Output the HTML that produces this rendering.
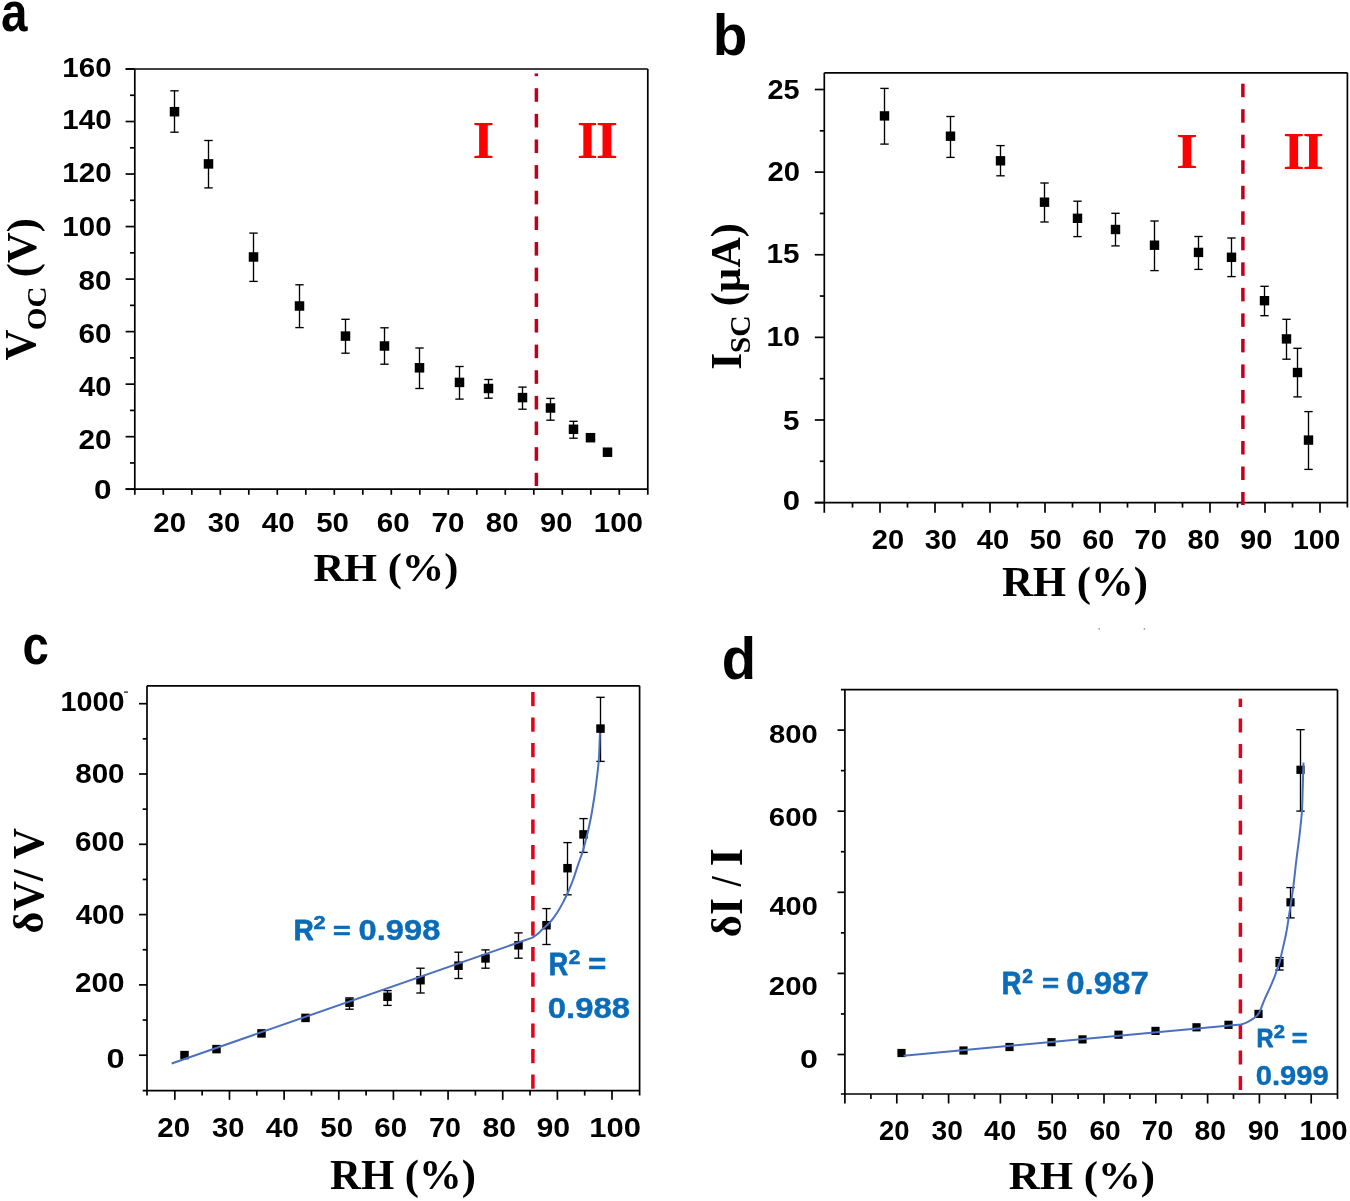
<!DOCTYPE html>
<html><head><meta charset="utf-8"><style>
html,body{margin:0;padding:0;background:#fff;overflow:hidden;}
svg{display:block;will-change:transform;}
</style></head><body>
<svg width="1350" height="1201" viewBox="0 0 1350 1201">
<rect width="1350" height="1201" fill="#fff"/>
<line x1="134.80" y1="69.00" x2="134.80" y2="494.80" stroke="#000" stroke-width="1.7"/>
<line x1="125.60" y1="69.00" x2="647.80" y2="69.00" stroke="#000" stroke-width="1.7"/>
<line x1="125.60" y1="489.20" x2="647.80" y2="489.20" stroke="#000" stroke-width="1.7"/>
<line x1="647.80" y1="69.00" x2="647.80" y2="494.80" stroke="#000" stroke-width="1.7"/>
<line x1="125.60" y1="489.20" x2="134.80" y2="489.20" stroke="#000" stroke-width="1.7"/>
<line x1="125.60" y1="436.68" x2="134.80" y2="436.68" stroke="#000" stroke-width="1.7"/>
<line x1="125.60" y1="384.15" x2="134.80" y2="384.15" stroke="#000" stroke-width="1.7"/>
<line x1="125.60" y1="331.62" x2="134.80" y2="331.62" stroke="#000" stroke-width="1.7"/>
<line x1="125.60" y1="279.10" x2="134.80" y2="279.10" stroke="#000" stroke-width="1.7"/>
<line x1="125.60" y1="226.57" x2="134.80" y2="226.57" stroke="#000" stroke-width="1.7"/>
<line x1="125.60" y1="174.05" x2="134.80" y2="174.05" stroke="#000" stroke-width="1.7"/>
<line x1="125.60" y1="121.52" x2="134.80" y2="121.52" stroke="#000" stroke-width="1.7"/>
<line x1="125.60" y1="69.00" x2="134.80" y2="69.00" stroke="#000" stroke-width="1.7"/>
<line x1="130.00" y1="462.94" x2="134.80" y2="462.94" stroke="#000" stroke-width="1.7"/>
<line x1="130.00" y1="410.41" x2="134.80" y2="410.41" stroke="#000" stroke-width="1.7"/>
<line x1="130.00" y1="357.89" x2="134.80" y2="357.89" stroke="#000" stroke-width="1.7"/>
<line x1="130.00" y1="305.36" x2="134.80" y2="305.36" stroke="#000" stroke-width="1.7"/>
<line x1="130.00" y1="252.84" x2="134.80" y2="252.84" stroke="#000" stroke-width="1.7"/>
<line x1="130.00" y1="200.31" x2="134.80" y2="200.31" stroke="#000" stroke-width="1.7"/>
<line x1="130.00" y1="147.79" x2="134.80" y2="147.79" stroke="#000" stroke-width="1.7"/>
<line x1="130.00" y1="95.26" x2="134.80" y2="95.26" stroke="#000" stroke-width="1.7"/>
<line x1="163.30" y1="489.20" x2="163.30" y2="494.80" stroke="#000" stroke-width="1.7"/>
<line x1="191.80" y1="489.20" x2="191.80" y2="494.80" stroke="#000" stroke-width="1.7"/>
<line x1="220.30" y1="489.20" x2="220.30" y2="494.80" stroke="#000" stroke-width="1.7"/>
<line x1="248.80" y1="489.20" x2="248.80" y2="494.80" stroke="#000" stroke-width="1.7"/>
<line x1="277.30" y1="489.20" x2="277.30" y2="494.80" stroke="#000" stroke-width="1.7"/>
<line x1="305.80" y1="489.20" x2="305.80" y2="494.80" stroke="#000" stroke-width="1.7"/>
<line x1="334.30" y1="489.20" x2="334.30" y2="494.80" stroke="#000" stroke-width="1.7"/>
<line x1="362.80" y1="489.20" x2="362.80" y2="494.80" stroke="#000" stroke-width="1.7"/>
<line x1="391.30" y1="489.20" x2="391.30" y2="494.80" stroke="#000" stroke-width="1.7"/>
<line x1="419.80" y1="489.20" x2="419.80" y2="494.80" stroke="#000" stroke-width="1.7"/>
<line x1="448.30" y1="489.20" x2="448.30" y2="494.80" stroke="#000" stroke-width="1.7"/>
<line x1="476.80" y1="489.20" x2="476.80" y2="494.80" stroke="#000" stroke-width="1.7"/>
<line x1="505.30" y1="489.20" x2="505.30" y2="494.80" stroke="#000" stroke-width="1.7"/>
<line x1="533.80" y1="489.20" x2="533.80" y2="494.80" stroke="#000" stroke-width="1.7"/>
<line x1="562.30" y1="489.20" x2="562.30" y2="494.80" stroke="#000" stroke-width="1.7"/>
<line x1="590.80" y1="489.20" x2="590.80" y2="494.80" stroke="#000" stroke-width="1.7"/>
<line x1="619.30" y1="489.20" x2="619.30" y2="494.80" stroke="#000" stroke-width="1.7"/>
<text x="94.04" y="499.43" font-family='"Liberation Sans", sans-serif' font-weight="bold" font-size="27.04" fill="#000" textLength="17.56" lengthAdjust="spacingAndGlyphs">0</text>
<text x="78.46" y="448.63" font-family='"Liberation Sans", sans-serif' font-weight="bold" font-size="27.04" fill="#000" textLength="33.10" lengthAdjust="spacingAndGlyphs">20</text>
<text x="79.06" y="395.83" font-family='"Liberation Sans", sans-serif' font-weight="bold" font-size="27.04" fill="#000" textLength="32.47" lengthAdjust="spacingAndGlyphs">40</text>
<text x="78.46" y="342.83" font-family='"Liberation Sans", sans-serif' font-weight="bold" font-size="27.04" fill="#000" textLength="33.10" lengthAdjust="spacingAndGlyphs">60</text>
<text x="78.61" y="289.83" font-family='"Liberation Sans", sans-serif' font-weight="bold" font-size="27.04" fill="#000" textLength="32.94" lengthAdjust="spacingAndGlyphs">80</text>
<text x="62.38" y="235.63" font-family='"Liberation Sans", sans-serif' font-weight="bold" font-size="27.04" fill="#000" textLength="49.20" lengthAdjust="spacingAndGlyphs">100</text>
<text x="62.38" y="181.93" font-family='"Liberation Sans", sans-serif' font-weight="bold" font-size="27.04" fill="#000" textLength="49.20" lengthAdjust="spacingAndGlyphs">120</text>
<text x="62.38" y="129.33" font-family='"Liberation Sans", sans-serif' font-weight="bold" font-size="27.04" fill="#000" textLength="49.20" lengthAdjust="spacingAndGlyphs">140</text>
<text x="62.38" y="76.63" font-family='"Liberation Sans", sans-serif' font-weight="bold" font-size="27.04" fill="#000" textLength="49.20" lengthAdjust="spacingAndGlyphs">160</text>
<text x="153.37" y="532.33" font-family='"Liberation Sans", sans-serif' font-weight="bold" font-size="27.04" fill="#000" textLength="32.67" lengthAdjust="spacingAndGlyphs">20</text>
<text x="207.77" y="532.33" font-family='"Liberation Sans", sans-serif' font-weight="bold" font-size="27.04" fill="#000" textLength="32.36" lengthAdjust="spacingAndGlyphs">30</text>
<text x="261.86" y="532.33" font-family='"Liberation Sans", sans-serif' font-weight="bold" font-size="27.04" fill="#000" textLength="32.79" lengthAdjust="spacingAndGlyphs">40</text>
<text x="316.21" y="532.33" font-family='"Liberation Sans", sans-serif' font-weight="bold" font-size="27.04" fill="#000" textLength="32.84" lengthAdjust="spacingAndGlyphs">50</text>
<text x="376.77" y="532.33" font-family='"Liberation Sans", sans-serif' font-weight="bold" font-size="27.04" fill="#000" textLength="32.89" lengthAdjust="spacingAndGlyphs">60</text>
<text x="431.57" y="532.33" font-family='"Liberation Sans", sans-serif' font-weight="bold" font-size="27.04" fill="#000" textLength="32.99" lengthAdjust="spacingAndGlyphs">70</text>
<text x="485.82" y="532.33" font-family='"Liberation Sans", sans-serif' font-weight="bold" font-size="27.04" fill="#000" textLength="32.73" lengthAdjust="spacingAndGlyphs">80</text>
<text x="540.09" y="532.33" font-family='"Liberation Sans", sans-serif' font-weight="bold" font-size="27.04" fill="#000" textLength="32.24" lengthAdjust="spacingAndGlyphs">90</text>
<text x="593.68" y="532.33" font-family='"Liberation Sans", sans-serif' font-weight="bold" font-size="27.04" fill="#000" textLength="49.41" lengthAdjust="spacingAndGlyphs">100</text>
<text x="313.46" y="580.69" font-family='"Liberation Serif", serif' font-weight="bold" font-size="40.99" fill="#000" textLength="144.98" lengthAdjust="spacingAndGlyphs">RH (%)</text>
<text x="1.07" y="31.44" font-family='"Liberation Sans", sans-serif' font-weight="bold" font-size="56.36" fill="#000" textLength="26.51" lengthAdjust="spacingAndGlyphs">a</text>
<text x="35.34" y="360.43" transform="rotate(-90 35.34 360.43)" font-family='"Liberation Serif", serif' font-weight="bold" font-size="43.73" fill="#000" textLength="30.95" lengthAdjust="spacingAndGlyphs">V</text>
<text x="45.92" y="330.15" transform="rotate(-90 45.92 330.15)" font-family='"Liberation Serif", serif' font-weight="bold" font-size="28.21" fill="#000" textLength="43.64" lengthAdjust="spacingAndGlyphs">OC</text>
<text x="35.52" y="277.21" transform="rotate(-90 35.52 277.21)" font-family='"Liberation Serif", serif' font-weight="bold" font-size="41.76" fill="#000" textLength="59.06" lengthAdjust="spacingAndGlyphs">(V)</text>
<rect x="534.65" y="73.40" width="3.50" height="2.76" fill="#c0001a"/>
<rect x="534.65" y="88.20" width="3.50" height="13.60" fill="#c0001a"/>
<rect x="534.65" y="113.84" width="3.50" height="13.60" fill="#c0001a"/>
<rect x="534.65" y="139.48" width="3.50" height="13.60" fill="#c0001a"/>
<rect x="534.65" y="165.12" width="3.50" height="13.60" fill="#c0001a"/>
<rect x="534.65" y="190.76" width="3.50" height="13.60" fill="#c0001a"/>
<rect x="534.65" y="216.40" width="3.50" height="13.60" fill="#c0001a"/>
<rect x="534.65" y="242.04" width="3.50" height="13.60" fill="#c0001a"/>
<rect x="534.65" y="267.68" width="3.50" height="13.60" fill="#c0001a"/>
<rect x="534.65" y="293.32" width="3.50" height="13.60" fill="#c0001a"/>
<rect x="534.65" y="318.96" width="3.50" height="13.60" fill="#c0001a"/>
<rect x="534.65" y="344.60" width="3.50" height="13.60" fill="#c0001a"/>
<rect x="534.65" y="370.24" width="3.50" height="13.60" fill="#c0001a"/>
<rect x="534.65" y="395.88" width="3.50" height="13.60" fill="#c0001a"/>
<rect x="534.65" y="421.52" width="3.50" height="13.60" fill="#c0001a"/>
<rect x="534.65" y="447.16" width="3.50" height="13.60" fill="#c0001a"/>
<rect x="534.65" y="472.80" width="3.50" height="13.20" fill="#c0001a"/>
<text x="472.53" y="158.40" font-family='"Liberation Serif", serif' font-weight="bold" font-size="51.91" fill="#ff0000" textLength="21.89" lengthAdjust="spacingAndGlyphs">I</text>
<text x="576.92" y="158.40" font-family='"Liberation Serif", serif' font-weight="bold" font-size="51.91" fill="#ff0000" textLength="20.92" lengthAdjust="spacingAndGlyphs">I</text>
<text x="595.69" y="158.40" font-family='"Liberation Serif", serif' font-weight="bold" font-size="51.91" fill="#ff0000" textLength="22.38" lengthAdjust="spacingAndGlyphs">I</text>
<line x1="174.50" y1="90.80" x2="174.50" y2="111.70" stroke="#000" stroke-width="1.35"/>
<line x1="170.30" y1="90.80" x2="178.70" y2="90.80" stroke="#000" stroke-width="1.35"/>
<line x1="174.50" y1="111.70" x2="174.50" y2="132.20" stroke="#000" stroke-width="1.35"/>
<line x1="170.30" y1="132.20" x2="178.70" y2="132.20" stroke="#000" stroke-width="1.35"/>
<rect x="169.75" y="106.95" width="9.50" height="9.50" fill="#000"/>
<line x1="208.50" y1="140.50" x2="208.50" y2="163.90" stroke="#000" stroke-width="1.35"/>
<line x1="204.30" y1="140.50" x2="212.70" y2="140.50" stroke="#000" stroke-width="1.35"/>
<line x1="208.50" y1="163.90" x2="208.50" y2="187.90" stroke="#000" stroke-width="1.35"/>
<line x1="204.30" y1="187.90" x2="212.70" y2="187.90" stroke="#000" stroke-width="1.35"/>
<rect x="203.75" y="159.15" width="9.50" height="9.50" fill="#000"/>
<line x1="253.50" y1="233.10" x2="253.50" y2="257.00" stroke="#000" stroke-width="1.35"/>
<line x1="249.30" y1="233.10" x2="257.70" y2="233.10" stroke="#000" stroke-width="1.35"/>
<line x1="253.50" y1="257.00" x2="253.50" y2="281.40" stroke="#000" stroke-width="1.35"/>
<line x1="249.30" y1="281.40" x2="257.70" y2="281.40" stroke="#000" stroke-width="1.35"/>
<rect x="248.75" y="252.25" width="9.50" height="9.50" fill="#000"/>
<line x1="299.50" y1="284.80" x2="299.50" y2="306.00" stroke="#000" stroke-width="1.35"/>
<line x1="295.30" y1="284.80" x2="303.70" y2="284.80" stroke="#000" stroke-width="1.35"/>
<line x1="299.50" y1="306.00" x2="299.50" y2="327.60" stroke="#000" stroke-width="1.35"/>
<line x1="295.30" y1="327.60" x2="303.70" y2="327.60" stroke="#000" stroke-width="1.35"/>
<rect x="294.75" y="301.25" width="9.50" height="9.50" fill="#000"/>
<line x1="345.50" y1="319.30" x2="345.50" y2="336.10" stroke="#000" stroke-width="1.35"/>
<line x1="341.30" y1="319.30" x2="349.70" y2="319.30" stroke="#000" stroke-width="1.35"/>
<line x1="345.50" y1="336.10" x2="345.50" y2="353.20" stroke="#000" stroke-width="1.35"/>
<line x1="341.30" y1="353.20" x2="349.70" y2="353.20" stroke="#000" stroke-width="1.35"/>
<rect x="340.75" y="331.35" width="9.50" height="9.50" fill="#000"/>
<line x1="384.50" y1="327.80" x2="384.50" y2="346.00" stroke="#000" stroke-width="1.35"/>
<line x1="380.30" y1="327.80" x2="388.70" y2="327.80" stroke="#000" stroke-width="1.35"/>
<line x1="384.50" y1="346.00" x2="384.50" y2="364.20" stroke="#000" stroke-width="1.35"/>
<line x1="380.30" y1="364.20" x2="388.70" y2="364.20" stroke="#000" stroke-width="1.35"/>
<rect x="379.75" y="341.25" width="9.50" height="9.50" fill="#000"/>
<line x1="419.50" y1="348.00" x2="419.50" y2="367.80" stroke="#000" stroke-width="1.35"/>
<line x1="415.30" y1="348.00" x2="423.70" y2="348.00" stroke="#000" stroke-width="1.35"/>
<line x1="419.50" y1="367.80" x2="419.50" y2="388.50" stroke="#000" stroke-width="1.35"/>
<line x1="415.30" y1="388.50" x2="423.70" y2="388.50" stroke="#000" stroke-width="1.35"/>
<rect x="414.75" y="363.05" width="9.50" height="9.50" fill="#000"/>
<line x1="459.50" y1="366.50" x2="459.50" y2="382.40" stroke="#000" stroke-width="1.35"/>
<line x1="455.30" y1="366.50" x2="463.70" y2="366.50" stroke="#000" stroke-width="1.35"/>
<line x1="459.50" y1="382.40" x2="459.50" y2="399.10" stroke="#000" stroke-width="1.35"/>
<line x1="455.30" y1="399.10" x2="463.70" y2="399.10" stroke="#000" stroke-width="1.35"/>
<rect x="454.75" y="377.65" width="9.50" height="9.50" fill="#000"/>
<line x1="488.50" y1="379.50" x2="488.50" y2="388.50" stroke="#000" stroke-width="1.35"/>
<line x1="484.30" y1="379.50" x2="492.70" y2="379.50" stroke="#000" stroke-width="1.35"/>
<line x1="488.50" y1="388.50" x2="488.50" y2="398.20" stroke="#000" stroke-width="1.35"/>
<line x1="484.30" y1="398.20" x2="492.70" y2="398.20" stroke="#000" stroke-width="1.35"/>
<rect x="483.75" y="383.75" width="9.50" height="9.50" fill="#000"/>
<line x1="522.50" y1="387.10" x2="522.50" y2="397.60" stroke="#000" stroke-width="1.35"/>
<line x1="518.30" y1="387.10" x2="526.70" y2="387.10" stroke="#000" stroke-width="1.35"/>
<line x1="522.50" y1="397.60" x2="522.50" y2="409.20" stroke="#000" stroke-width="1.35"/>
<line x1="518.30" y1="409.20" x2="526.70" y2="409.20" stroke="#000" stroke-width="1.35"/>
<rect x="517.75" y="392.85" width="9.50" height="9.50" fill="#000"/>
<line x1="550.50" y1="398.40" x2="550.50" y2="408.00" stroke="#000" stroke-width="1.35"/>
<line x1="546.30" y1="398.40" x2="554.70" y2="398.40" stroke="#000" stroke-width="1.35"/>
<line x1="550.50" y1="408.00" x2="550.50" y2="420.20" stroke="#000" stroke-width="1.35"/>
<line x1="546.30" y1="420.20" x2="554.70" y2="420.20" stroke="#000" stroke-width="1.35"/>
<rect x="545.75" y="403.25" width="9.50" height="9.50" fill="#000"/>
<line x1="573.50" y1="421.30" x2="573.50" y2="429.30" stroke="#000" stroke-width="1.35"/>
<line x1="569.30" y1="421.30" x2="577.70" y2="421.30" stroke="#000" stroke-width="1.35"/>
<line x1="573.50" y1="429.30" x2="573.50" y2="438.20" stroke="#000" stroke-width="1.35"/>
<line x1="569.30" y1="438.20" x2="577.70" y2="438.20" stroke="#000" stroke-width="1.35"/>
<rect x="568.75" y="424.55" width="9.50" height="9.50" fill="#000"/>
<rect x="585.75" y="432.95" width="9.50" height="9.50" fill="#000"/>
<rect x="602.75" y="447.45" width="9.50" height="9.50" fill="#000"/>
<line x1="824.30" y1="72.80" x2="824.30" y2="512.80" stroke="#000" stroke-width="1.7"/>
<line x1="824.30" y1="72.80" x2="1347.40" y2="72.80" stroke="#000" stroke-width="1.7"/>
<line x1="814.80" y1="502.60" x2="1347.40" y2="502.60" stroke="#000" stroke-width="1.7"/>
<line x1="1347.40" y1="72.80" x2="1347.40" y2="507.60" stroke="#000" stroke-width="1.7"/>
<line x1="814.80" y1="502.60" x2="824.30" y2="502.60" stroke="#000" stroke-width="1.7"/>
<line x1="814.80" y1="419.98" x2="824.30" y2="419.98" stroke="#000" stroke-width="1.7"/>
<line x1="814.80" y1="337.36" x2="824.30" y2="337.36" stroke="#000" stroke-width="1.7"/>
<line x1="814.80" y1="254.74" x2="824.30" y2="254.74" stroke="#000" stroke-width="1.7"/>
<line x1="814.80" y1="172.12" x2="824.30" y2="172.12" stroke="#000" stroke-width="1.7"/>
<line x1="814.80" y1="89.50" x2="824.30" y2="89.50" stroke="#000" stroke-width="1.7"/>
<line x1="819.80" y1="461.29" x2="824.30" y2="461.29" stroke="#000" stroke-width="1.7"/>
<line x1="819.80" y1="378.67" x2="824.30" y2="378.67" stroke="#000" stroke-width="1.7"/>
<line x1="819.80" y1="296.05" x2="824.30" y2="296.05" stroke="#000" stroke-width="1.7"/>
<line x1="819.80" y1="213.43" x2="824.30" y2="213.43" stroke="#000" stroke-width="1.7"/>
<line x1="819.80" y1="130.81" x2="824.30" y2="130.81" stroke="#000" stroke-width="1.7"/>
<line x1="880.00" y1="502.60" x2="880.00" y2="512.80" stroke="#000" stroke-width="1.7"/>
<line x1="935.00" y1="502.60" x2="935.00" y2="512.80" stroke="#000" stroke-width="1.7"/>
<line x1="990.00" y1="502.60" x2="990.00" y2="512.80" stroke="#000" stroke-width="1.7"/>
<line x1="1045.00" y1="502.60" x2="1045.00" y2="512.80" stroke="#000" stroke-width="1.7"/>
<line x1="1100.00" y1="502.60" x2="1100.00" y2="512.80" stroke="#000" stroke-width="1.7"/>
<line x1="1155.00" y1="502.60" x2="1155.00" y2="512.80" stroke="#000" stroke-width="1.7"/>
<line x1="1210.00" y1="502.60" x2="1210.00" y2="512.80" stroke="#000" stroke-width="1.7"/>
<line x1="1265.00" y1="502.60" x2="1265.00" y2="512.80" stroke="#000" stroke-width="1.7"/>
<line x1="1320.00" y1="502.60" x2="1320.00" y2="512.80" stroke="#000" stroke-width="1.7"/>
<line x1="852.50" y1="502.60" x2="852.50" y2="507.60" stroke="#000" stroke-width="1.7"/>
<line x1="907.50" y1="502.60" x2="907.50" y2="507.60" stroke="#000" stroke-width="1.7"/>
<line x1="962.50" y1="502.60" x2="962.50" y2="507.60" stroke="#000" stroke-width="1.7"/>
<line x1="1017.50" y1="502.60" x2="1017.50" y2="507.60" stroke="#000" stroke-width="1.7"/>
<line x1="1072.50" y1="502.60" x2="1072.50" y2="507.60" stroke="#000" stroke-width="1.7"/>
<line x1="1127.50" y1="502.60" x2="1127.50" y2="507.60" stroke="#000" stroke-width="1.7"/>
<line x1="1182.50" y1="502.60" x2="1182.50" y2="507.60" stroke="#000" stroke-width="1.7"/>
<line x1="1237.50" y1="502.60" x2="1237.50" y2="507.60" stroke="#000" stroke-width="1.7"/>
<line x1="1292.50" y1="502.60" x2="1292.50" y2="507.60" stroke="#000" stroke-width="1.7"/>
<text x="782.75" y="510.33" font-family='"Liberation Sans", sans-serif' font-weight="bold" font-size="27.04" fill="#000" textLength="17.33" lengthAdjust="spacingAndGlyphs">0</text>
<text x="783.11" y="430.08" font-family='"Liberation Sans", sans-serif' font-weight="bold" font-size="27.43" fill="#000" textLength="16.46" lengthAdjust="spacingAndGlyphs">5</text>
<text x="766.54" y="346.23" font-family='"Liberation Sans", sans-serif' font-weight="bold" font-size="27.04" fill="#000" textLength="33.54" lengthAdjust="spacingAndGlyphs">10</text>
<text x="766.57" y="263.43" font-family='"Liberation Sans", sans-serif' font-weight="bold" font-size="27.43" fill="#000" textLength="33.04" lengthAdjust="spacingAndGlyphs">15</text>
<text x="767.48" y="181.23" font-family='"Liberation Sans", sans-serif' font-weight="bold" font-size="27.04" fill="#000" textLength="32.56" lengthAdjust="spacingAndGlyphs">20</text>
<text x="767.49" y="98.68" font-family='"Liberation Sans", sans-serif' font-weight="bold" font-size="27.04" fill="#000" textLength="32.10" lengthAdjust="spacingAndGlyphs">25</text>
<text x="871.78" y="549.13" font-family='"Liberation Sans", sans-serif' font-weight="bold" font-size="27.18" fill="#000" textLength="32.35" lengthAdjust="spacingAndGlyphs">20</text>
<text x="924.67" y="549.13" font-family='"Liberation Sans", sans-serif' font-weight="bold" font-size="27.18" fill="#000" textLength="32.36" lengthAdjust="spacingAndGlyphs">30</text>
<text x="976.86" y="549.13" font-family='"Liberation Sans", sans-serif' font-weight="bold" font-size="27.18" fill="#000" textLength="32.47" lengthAdjust="spacingAndGlyphs">40</text>
<text x="1029.74" y="549.13" font-family='"Liberation Sans", sans-serif' font-weight="bold" font-size="27.18" fill="#000" textLength="31.87" lengthAdjust="spacingAndGlyphs">50</text>
<text x="1082.19" y="549.13" font-family='"Liberation Sans", sans-serif' font-weight="bold" font-size="27.18" fill="#000" textLength="32.03" lengthAdjust="spacingAndGlyphs">60</text>
<text x="1134.60" y="549.13" font-family='"Liberation Sans", sans-serif' font-weight="bold" font-size="27.18" fill="#000" textLength="32.23" lengthAdjust="spacingAndGlyphs">70</text>
<text x="1187.63" y="549.13" font-family='"Liberation Sans", sans-serif' font-weight="bold" font-size="27.18" fill="#000" textLength="32.19" lengthAdjust="spacingAndGlyphs">80</text>
<text x="1240.08" y="549.13" font-family='"Liberation Sans", sans-serif' font-weight="bold" font-size="27.18" fill="#000" textLength="32.35" lengthAdjust="spacingAndGlyphs">90</text>
<text x="1292.95" y="549.13" font-family='"Liberation Sans", sans-serif' font-weight="bold" font-size="27.18" fill="#000" textLength="47.38" lengthAdjust="spacingAndGlyphs">100</text>
<text x="1001.96" y="596.47" font-family='"Liberation Serif", serif' font-weight="bold" font-size="41.54" fill="#000" textLength="146.00" lengthAdjust="spacingAndGlyphs">RH (%)</text>
<text x="712.82" y="54.52" font-family='"Liberation Sans", sans-serif' font-weight="bold" font-size="58.10" fill="#000" textLength="34.60" lengthAdjust="spacingAndGlyphs">b</text>
<text x="740.70" y="369.83" transform="rotate(-90 740.70 369.83)" font-family='"Liberation Serif", serif' font-weight="bold" font-size="44.89" fill="#000" textLength="17.02" lengthAdjust="spacingAndGlyphs">I</text>
<text x="750.41" y="353.33" transform="rotate(-90 750.41 353.33)" font-family='"Liberation Serif", serif' font-weight="bold" font-size="28.96" fill="#000" textLength="37.96" lengthAdjust="spacingAndGlyphs">SC</text>
<text x="740.09" y="306.20" transform="rotate(-90 740.09 306.20)" font-family='"Liberation Serif", serif' font-weight="bold" font-size="41.43" fill="#000" textLength="83.08" lengthAdjust="spacingAndGlyphs">(µA)</text>
<rect x="1241.15" y="83.70" width="3.50" height="13.50" fill="#c0001a"/>
<rect x="1241.15" y="109.22" width="3.50" height="13.50" fill="#c0001a"/>
<rect x="1241.15" y="134.74" width="3.50" height="13.50" fill="#c0001a"/>
<rect x="1241.15" y="160.26" width="3.50" height="13.50" fill="#c0001a"/>
<rect x="1241.15" y="185.78" width="3.50" height="13.50" fill="#c0001a"/>
<rect x="1241.15" y="211.30" width="3.50" height="13.50" fill="#c0001a"/>
<rect x="1241.15" y="236.82" width="3.50" height="13.50" fill="#c0001a"/>
<rect x="1241.15" y="262.34" width="3.50" height="13.50" fill="#c0001a"/>
<rect x="1241.15" y="287.86" width="3.50" height="13.50" fill="#c0001a"/>
<rect x="1241.15" y="313.38" width="3.50" height="13.50" fill="#c0001a"/>
<rect x="1241.15" y="338.90" width="3.50" height="13.50" fill="#c0001a"/>
<rect x="1241.15" y="364.42" width="3.50" height="13.50" fill="#c0001a"/>
<rect x="1241.15" y="389.94" width="3.50" height="13.50" fill="#c0001a"/>
<rect x="1241.15" y="415.46" width="3.50" height="13.50" fill="#c0001a"/>
<rect x="1241.15" y="440.98" width="3.50" height="13.50" fill="#c0001a"/>
<rect x="1241.15" y="466.50" width="3.50" height="13.50" fill="#c0001a"/>
<rect x="1241.15" y="492.02" width="3.50" height="12.98" fill="#c0001a"/>
<text x="1176.12" y="167.90" font-family='"Liberation Serif", serif' font-weight="bold" font-size="51.60" fill="#ff0000" textLength="22.01" lengthAdjust="spacingAndGlyphs">I</text>
<text x="1282.95" y="169.30" font-family='"Liberation Serif", serif' font-weight="bold" font-size="52.37" fill="#ff0000" textLength="21.65" lengthAdjust="spacingAndGlyphs">I</text>
<text x="1302.45" y="169.30" font-family='"Liberation Serif", serif' font-weight="bold" font-size="52.37" fill="#ff0000" textLength="21.65" lengthAdjust="spacingAndGlyphs">I</text>
<line x1="884.50" y1="88.40" x2="884.50" y2="115.90" stroke="#000" stroke-width="1.35"/>
<line x1="880.30" y1="88.40" x2="888.70" y2="88.40" stroke="#000" stroke-width="1.35"/>
<line x1="884.50" y1="115.90" x2="884.50" y2="144.10" stroke="#000" stroke-width="1.35"/>
<line x1="880.30" y1="144.10" x2="888.70" y2="144.10" stroke="#000" stroke-width="1.35"/>
<rect x="879.80" y="111.20" width="9.40" height="9.40" fill="#000"/>
<line x1="950.50" y1="116.50" x2="950.50" y2="136.20" stroke="#000" stroke-width="1.35"/>
<line x1="946.30" y1="116.50" x2="954.70" y2="116.50" stroke="#000" stroke-width="1.35"/>
<line x1="950.50" y1="136.20" x2="950.50" y2="157.40" stroke="#000" stroke-width="1.35"/>
<line x1="946.30" y1="157.40" x2="954.70" y2="157.40" stroke="#000" stroke-width="1.35"/>
<rect x="945.80" y="131.50" width="9.40" height="9.40" fill="#000"/>
<line x1="1000.50" y1="145.60" x2="1000.50" y2="160.80" stroke="#000" stroke-width="1.35"/>
<line x1="996.30" y1="145.60" x2="1004.70" y2="145.60" stroke="#000" stroke-width="1.35"/>
<line x1="1000.50" y1="160.80" x2="1000.50" y2="175.80" stroke="#000" stroke-width="1.35"/>
<line x1="996.30" y1="175.80" x2="1004.70" y2="175.80" stroke="#000" stroke-width="1.35"/>
<rect x="995.80" y="156.10" width="9.40" height="9.40" fill="#000"/>
<line x1="1044.50" y1="183.00" x2="1044.50" y2="202.20" stroke="#000" stroke-width="1.35"/>
<line x1="1040.30" y1="183.00" x2="1048.70" y2="183.00" stroke="#000" stroke-width="1.35"/>
<line x1="1044.50" y1="202.20" x2="1044.50" y2="222.00" stroke="#000" stroke-width="1.35"/>
<line x1="1040.30" y1="222.00" x2="1048.70" y2="222.00" stroke="#000" stroke-width="1.35"/>
<rect x="1039.80" y="197.50" width="9.40" height="9.40" fill="#000"/>
<line x1="1077.50" y1="201.20" x2="1077.50" y2="218.30" stroke="#000" stroke-width="1.35"/>
<line x1="1073.30" y1="201.20" x2="1081.70" y2="201.20" stroke="#000" stroke-width="1.35"/>
<line x1="1077.50" y1="218.30" x2="1077.50" y2="236.60" stroke="#000" stroke-width="1.35"/>
<line x1="1073.30" y1="236.60" x2="1081.70" y2="236.60" stroke="#000" stroke-width="1.35"/>
<rect x="1072.80" y="213.60" width="9.40" height="9.40" fill="#000"/>
<line x1="1115.50" y1="213.30" x2="1115.50" y2="229.50" stroke="#000" stroke-width="1.35"/>
<line x1="1111.30" y1="213.30" x2="1119.70" y2="213.30" stroke="#000" stroke-width="1.35"/>
<line x1="1115.50" y1="229.50" x2="1115.50" y2="245.90" stroke="#000" stroke-width="1.35"/>
<line x1="1111.30" y1="245.90" x2="1119.70" y2="245.90" stroke="#000" stroke-width="1.35"/>
<rect x="1110.80" y="224.80" width="9.40" height="9.40" fill="#000"/>
<line x1="1154.50" y1="221.00" x2="1154.50" y2="245.20" stroke="#000" stroke-width="1.35"/>
<line x1="1150.30" y1="221.00" x2="1158.70" y2="221.00" stroke="#000" stroke-width="1.35"/>
<line x1="1154.50" y1="245.20" x2="1154.50" y2="270.60" stroke="#000" stroke-width="1.35"/>
<line x1="1150.30" y1="270.60" x2="1158.70" y2="270.60" stroke="#000" stroke-width="1.35"/>
<rect x="1149.80" y="240.50" width="9.40" height="9.40" fill="#000"/>
<line x1="1198.50" y1="236.50" x2="1198.50" y2="252.40" stroke="#000" stroke-width="1.35"/>
<line x1="1194.30" y1="236.50" x2="1202.70" y2="236.50" stroke="#000" stroke-width="1.35"/>
<line x1="1198.50" y1="252.40" x2="1198.50" y2="269.40" stroke="#000" stroke-width="1.35"/>
<line x1="1194.30" y1="269.40" x2="1202.70" y2="269.40" stroke="#000" stroke-width="1.35"/>
<rect x="1193.80" y="247.70" width="9.40" height="9.40" fill="#000"/>
<line x1="1231.50" y1="238.00" x2="1231.50" y2="257.30" stroke="#000" stroke-width="1.35"/>
<line x1="1227.30" y1="238.00" x2="1235.70" y2="238.00" stroke="#000" stroke-width="1.35"/>
<line x1="1231.50" y1="257.30" x2="1231.50" y2="276.60" stroke="#000" stroke-width="1.35"/>
<line x1="1227.30" y1="276.60" x2="1235.70" y2="276.60" stroke="#000" stroke-width="1.35"/>
<rect x="1226.80" y="252.60" width="9.40" height="9.40" fill="#000"/>
<line x1="1264.50" y1="286.30" x2="1264.50" y2="300.70" stroke="#000" stroke-width="1.35"/>
<line x1="1260.30" y1="286.30" x2="1268.70" y2="286.30" stroke="#000" stroke-width="1.35"/>
<line x1="1264.50" y1="300.70" x2="1264.50" y2="315.70" stroke="#000" stroke-width="1.35"/>
<line x1="1260.30" y1="315.70" x2="1268.70" y2="315.70" stroke="#000" stroke-width="1.35"/>
<rect x="1259.80" y="296.00" width="9.40" height="9.40" fill="#000"/>
<line x1="1286.50" y1="319.30" x2="1286.50" y2="338.90" stroke="#000" stroke-width="1.35"/>
<line x1="1282.30" y1="319.30" x2="1290.70" y2="319.30" stroke="#000" stroke-width="1.35"/>
<line x1="1286.50" y1="338.90" x2="1286.50" y2="359.20" stroke="#000" stroke-width="1.35"/>
<line x1="1282.30" y1="359.20" x2="1290.70" y2="359.20" stroke="#000" stroke-width="1.35"/>
<rect x="1281.80" y="334.20" width="9.40" height="9.40" fill="#000"/>
<line x1="1297.50" y1="348.30" x2="1297.50" y2="372.50" stroke="#000" stroke-width="1.35"/>
<line x1="1293.30" y1="348.30" x2="1301.70" y2="348.30" stroke="#000" stroke-width="1.35"/>
<line x1="1297.50" y1="372.50" x2="1297.50" y2="396.90" stroke="#000" stroke-width="1.35"/>
<line x1="1293.30" y1="396.90" x2="1301.70" y2="396.90" stroke="#000" stroke-width="1.35"/>
<rect x="1292.80" y="367.80" width="9.40" height="9.40" fill="#000"/>
<line x1="1308.50" y1="411.60" x2="1308.50" y2="440.10" stroke="#000" stroke-width="1.35"/>
<line x1="1304.30" y1="411.60" x2="1312.70" y2="411.60" stroke="#000" stroke-width="1.35"/>
<line x1="1308.50" y1="440.10" x2="1308.50" y2="469.40" stroke="#000" stroke-width="1.35"/>
<line x1="1304.30" y1="469.40" x2="1312.70" y2="469.40" stroke="#000" stroke-width="1.35"/>
<rect x="1303.80" y="435.40" width="9.40" height="9.40" fill="#000"/>
<rect x="1098.50" y="628.20" width="1.40" height="1.40" fill="#888"/>
<rect x="1143.70" y="628.20" width="1.40" height="1.40" fill="#888"/>
<line x1="147.00" y1="685.80" x2="147.00" y2="1095.60" stroke="#000" stroke-width="1.7"/>
<line x1="147.00" y1="685.80" x2="639.60" y2="685.80" stroke="#000" stroke-width="1.7"/>
<line x1="142.70" y1="1090.60" x2="639.60" y2="1090.60" stroke="#000" stroke-width="1.7"/>
<line x1="639.60" y1="685.80" x2="639.60" y2="1095.60" stroke="#000" stroke-width="1.7"/>
<line x1="139.00" y1="1055.20" x2="147.00" y2="1055.20" stroke="#000" stroke-width="1.7"/>
<line x1="139.00" y1="984.90" x2="147.00" y2="984.90" stroke="#000" stroke-width="1.7"/>
<line x1="139.00" y1="914.60" x2="147.00" y2="914.60" stroke="#000" stroke-width="1.7"/>
<line x1="139.00" y1="844.30" x2="147.00" y2="844.30" stroke="#000" stroke-width="1.7"/>
<line x1="139.00" y1="774.00" x2="147.00" y2="774.00" stroke="#000" stroke-width="1.7"/>
<line x1="139.00" y1="703.70" x2="147.00" y2="703.70" stroke="#000" stroke-width="1.7"/>
<line x1="142.70" y1="1020.05" x2="147.00" y2="1020.05" stroke="#000" stroke-width="1.7"/>
<line x1="142.70" y1="949.75" x2="147.00" y2="949.75" stroke="#000" stroke-width="1.7"/>
<line x1="142.70" y1="879.45" x2="147.00" y2="879.45" stroke="#000" stroke-width="1.7"/>
<line x1="142.70" y1="809.15" x2="147.00" y2="809.15" stroke="#000" stroke-width="1.7"/>
<line x1="142.70" y1="738.85" x2="147.00" y2="738.85" stroke="#000" stroke-width="1.7"/>
<line x1="174.82" y1="1090.60" x2="174.82" y2="1099.80" stroke="#000" stroke-width="1.7"/>
<line x1="229.47" y1="1090.60" x2="229.47" y2="1099.80" stroke="#000" stroke-width="1.7"/>
<line x1="284.12" y1="1090.60" x2="284.12" y2="1099.80" stroke="#000" stroke-width="1.7"/>
<line x1="338.77" y1="1090.60" x2="338.77" y2="1099.80" stroke="#000" stroke-width="1.7"/>
<line x1="393.42" y1="1090.60" x2="393.42" y2="1099.80" stroke="#000" stroke-width="1.7"/>
<line x1="448.07" y1="1090.60" x2="448.07" y2="1099.80" stroke="#000" stroke-width="1.7"/>
<line x1="502.72" y1="1090.60" x2="502.72" y2="1099.80" stroke="#000" stroke-width="1.7"/>
<line x1="557.38" y1="1090.60" x2="557.38" y2="1099.80" stroke="#000" stroke-width="1.7"/>
<line x1="612.02" y1="1090.60" x2="612.02" y2="1099.80" stroke="#000" stroke-width="1.7"/>
<line x1="202.15" y1="1090.60" x2="202.15" y2="1095.60" stroke="#000" stroke-width="1.7"/>
<line x1="256.80" y1="1090.60" x2="256.80" y2="1095.60" stroke="#000" stroke-width="1.7"/>
<line x1="311.45" y1="1090.60" x2="311.45" y2="1095.60" stroke="#000" stroke-width="1.7"/>
<line x1="366.10" y1="1090.60" x2="366.10" y2="1095.60" stroke="#000" stroke-width="1.7"/>
<line x1="420.75" y1="1090.60" x2="420.75" y2="1095.60" stroke="#000" stroke-width="1.7"/>
<line x1="475.40" y1="1090.60" x2="475.40" y2="1095.60" stroke="#000" stroke-width="1.7"/>
<line x1="530.05" y1="1090.60" x2="530.05" y2="1095.60" stroke="#000" stroke-width="1.7"/>
<line x1="584.70" y1="1090.60" x2="584.70" y2="1095.60" stroke="#000" stroke-width="1.7"/>
<text x="60.43" y="711.23" font-family='"Liberation Sans", sans-serif' font-weight="bold" font-size="26.76" fill="#000" textLength="64.01" lengthAdjust="spacingAndGlyphs">1000</text>
<text x="75.21" y="782.63" font-family='"Liberation Sans", sans-serif' font-weight="bold" font-size="26.76" fill="#000" textLength="49.38" lengthAdjust="spacingAndGlyphs">800</text>
<text x="75.06" y="851.23" font-family='"Liberation Sans", sans-serif' font-weight="bold" font-size="26.76" fill="#000" textLength="49.53" lengthAdjust="spacingAndGlyphs">600</text>
<text x="75.66" y="923.53" font-family='"Liberation Sans", sans-serif' font-weight="bold" font-size="26.76" fill="#000" textLength="48.92" lengthAdjust="spacingAndGlyphs">400</text>
<text x="75.06" y="991.53" font-family='"Liberation Sans", sans-serif' font-weight="bold" font-size="26.76" fill="#000" textLength="49.53" lengthAdjust="spacingAndGlyphs">200</text>
<text x="106.49" y="1067.93" font-family='"Liberation Sans", sans-serif' font-weight="bold" font-size="26.76" fill="#000" textLength="18.15" lengthAdjust="spacingAndGlyphs">0</text>
<rect x="124.00" y="691.40" width="4.00" height="1.40" fill="#333"/>
<text x="157.27" y="1136.93" font-family='"Liberation Sans", sans-serif' font-weight="bold" font-size="27.32" fill="#000" textLength="32.89" lengthAdjust="spacingAndGlyphs">20</text>
<text x="212.07" y="1136.93" font-family='"Liberation Sans", sans-serif' font-weight="bold" font-size="27.32" fill="#000" textLength="32.47" lengthAdjust="spacingAndGlyphs">30</text>
<text x="265.65" y="1136.93" font-family='"Liberation Sans", sans-serif' font-weight="bold" font-size="27.32" fill="#000" textLength="33.42" lengthAdjust="spacingAndGlyphs">40</text>
<text x="320.32" y="1136.93" font-family='"Liberation Sans", sans-serif' font-weight="bold" font-size="27.32" fill="#000" textLength="32.73" lengthAdjust="spacingAndGlyphs">50</text>
<text x="374.37" y="1136.93" font-family='"Liberation Sans", sans-serif' font-weight="bold" font-size="27.32" fill="#000" textLength="32.89" lengthAdjust="spacingAndGlyphs">60</text>
<text x="429.11" y="1136.93" font-family='"Liberation Sans", sans-serif' font-weight="bold" font-size="27.32" fill="#000" textLength="31.91" lengthAdjust="spacingAndGlyphs">70</text>
<text x="482.49" y="1136.93" font-family='"Liberation Sans", sans-serif' font-weight="bold" font-size="27.32" fill="#000" textLength="33.58" lengthAdjust="spacingAndGlyphs">80</text>
<text x="536.44" y="1136.93" font-family='"Liberation Sans", sans-serif' font-weight="bold" font-size="27.32" fill="#000" textLength="33.75" lengthAdjust="spacingAndGlyphs">90</text>
<text x="589.29" y="1136.93" font-family='"Liberation Sans", sans-serif' font-weight="bold" font-size="27.32" fill="#000" textLength="51.66" lengthAdjust="spacingAndGlyphs">100</text>
<text x="330.06" y="1189.07" font-family='"Liberation Serif", serif' font-weight="bold" font-size="41.54" fill="#000" textLength="146.00" lengthAdjust="spacingAndGlyphs">RH (%)</text>
<text x="22.50" y="663.85" font-family='"Liberation Sans", sans-serif' font-weight="bold" font-size="55.27" fill="#000" textLength="26.38" lengthAdjust="spacingAndGlyphs">c</text>
<text x="42.88" y="933.48" transform="rotate(-90 42.88 933.48)" font-family='"Liberation Serif", serif' font-weight="bold" font-size="41.26" fill="#000" textLength="21.92" lengthAdjust="spacingAndGlyphs">δ</text>
<text x="42.84" y="910.91" transform="rotate(-90 42.84 910.91)" font-family='"Liberation Serif", serif' font-weight="bold" font-size="44.03" fill="#000" textLength="41.50" lengthAdjust="spacingAndGlyphs">V/</text>
<text x="42.84" y="858.93" transform="rotate(-90 42.84 858.93)" font-family='"Liberation Serif", serif' font-weight="bold" font-size="44.03" fill="#000" textLength="30.95" lengthAdjust="spacingAndGlyphs">V</text>
<rect x="531.15" y="692.00" width="3.50" height="14.20" fill="#e2001a"/>
<rect x="531.15" y="717.50" width="3.50" height="14.20" fill="#e2001a"/>
<rect x="531.15" y="743.00" width="3.50" height="14.20" fill="#e2001a"/>
<rect x="531.15" y="768.50" width="3.50" height="14.20" fill="#e2001a"/>
<rect x="531.15" y="794.00" width="3.50" height="14.20" fill="#e2001a"/>
<rect x="531.15" y="819.50" width="3.50" height="14.20" fill="#e2001a"/>
<rect x="531.15" y="845.00" width="3.50" height="14.20" fill="#e2001a"/>
<rect x="531.15" y="870.50" width="3.50" height="14.20" fill="#e2001a"/>
<rect x="531.15" y="896.00" width="3.50" height="14.20" fill="#e2001a"/>
<rect x="531.15" y="921.50" width="3.50" height="14.20" fill="#e2001a"/>
<rect x="531.15" y="947.00" width="3.50" height="14.20" fill="#e2001a"/>
<rect x="531.15" y="972.50" width="3.50" height="14.20" fill="#e2001a"/>
<rect x="531.15" y="998.00" width="3.50" height="14.20" fill="#e2001a"/>
<rect x="531.15" y="1023.50" width="3.50" height="14.20" fill="#e2001a"/>
<rect x="531.15" y="1049.00" width="3.50" height="14.20" fill="#e2001a"/>
<rect x="531.15" y="1074.50" width="3.50" height="14.20" fill="#e2001a"/>
<rect x="180.25" y="1050.85" width="8.50" height="8.50" fill="#000"/>
<rect x="212.25" y="1044.85" width="8.50" height="8.50" fill="#000"/>
<rect x="257.25" y="1029.15" width="8.50" height="8.50" fill="#000"/>
<rect x="301.25" y="1013.65" width="8.50" height="8.50" fill="#000"/>
<line x1="349.50" y1="997.90" x2="349.50" y2="1002.70" stroke="#000" stroke-width="1.35"/>
<line x1="345.30" y1="997.90" x2="353.70" y2="997.90" stroke="#000" stroke-width="1.35"/>
<line x1="349.50" y1="1002.70" x2="349.50" y2="1009.20" stroke="#000" stroke-width="1.35"/>
<line x1="345.30" y1="1009.20" x2="353.70" y2="1009.20" stroke="#000" stroke-width="1.35"/>
<rect x="345.25" y="998.45" width="8.50" height="8.50" fill="#000"/>
<line x1="387.50" y1="990.60" x2="387.50" y2="996.80" stroke="#000" stroke-width="1.35"/>
<line x1="383.30" y1="990.60" x2="391.70" y2="990.60" stroke="#000" stroke-width="1.35"/>
<line x1="387.50" y1="996.80" x2="387.50" y2="1005.40" stroke="#000" stroke-width="1.35"/>
<line x1="383.30" y1="1005.40" x2="391.70" y2="1005.40" stroke="#000" stroke-width="1.35"/>
<rect x="383.25" y="992.55" width="8.50" height="8.50" fill="#000"/>
<line x1="420.50" y1="968.20" x2="420.50" y2="980.20" stroke="#000" stroke-width="1.35"/>
<line x1="416.30" y1="968.20" x2="424.70" y2="968.20" stroke="#000" stroke-width="1.35"/>
<line x1="420.50" y1="980.20" x2="420.50" y2="993.00" stroke="#000" stroke-width="1.35"/>
<line x1="416.30" y1="993.00" x2="424.70" y2="993.00" stroke="#000" stroke-width="1.35"/>
<rect x="416.25" y="975.95" width="8.50" height="8.50" fill="#000"/>
<line x1="458.50" y1="952.20" x2="458.50" y2="965.70" stroke="#000" stroke-width="1.35"/>
<line x1="454.30" y1="952.20" x2="462.70" y2="952.20" stroke="#000" stroke-width="1.35"/>
<line x1="458.50" y1="965.70" x2="458.50" y2="978.50" stroke="#000" stroke-width="1.35"/>
<line x1="454.30" y1="978.50" x2="462.70" y2="978.50" stroke="#000" stroke-width="1.35"/>
<rect x="454.25" y="961.45" width="8.50" height="8.50" fill="#000"/>
<line x1="485.50" y1="949.90" x2="485.50" y2="958.40" stroke="#000" stroke-width="1.35"/>
<line x1="481.30" y1="949.90" x2="489.70" y2="949.90" stroke="#000" stroke-width="1.35"/>
<line x1="485.50" y1="958.40" x2="485.50" y2="968.20" stroke="#000" stroke-width="1.35"/>
<line x1="481.30" y1="968.20" x2="489.70" y2="968.20" stroke="#000" stroke-width="1.35"/>
<rect x="481.25" y="954.15" width="8.50" height="8.50" fill="#000"/>
<line x1="518.50" y1="932.90" x2="518.50" y2="945.30" stroke="#000" stroke-width="1.35"/>
<line x1="514.30" y1="932.90" x2="522.70" y2="932.90" stroke="#000" stroke-width="1.35"/>
<line x1="518.50" y1="945.30" x2="518.50" y2="958.20" stroke="#000" stroke-width="1.35"/>
<line x1="514.30" y1="958.20" x2="522.70" y2="958.20" stroke="#000" stroke-width="1.35"/>
<rect x="514.25" y="941.05" width="8.50" height="8.50" fill="#000"/>
<line x1="546.50" y1="908.60" x2="546.50" y2="925.20" stroke="#000" stroke-width="1.35"/>
<line x1="542.30" y1="908.60" x2="550.70" y2="908.60" stroke="#000" stroke-width="1.35"/>
<line x1="546.50" y1="925.20" x2="546.50" y2="944.50" stroke="#000" stroke-width="1.35"/>
<line x1="542.30" y1="944.50" x2="550.70" y2="944.50" stroke="#000" stroke-width="1.35"/>
<rect x="542.25" y="920.95" width="8.50" height="8.50" fill="#000"/>
<line x1="567.50" y1="842.60" x2="567.50" y2="868.20" stroke="#000" stroke-width="1.35"/>
<line x1="563.30" y1="842.60" x2="571.70" y2="842.60" stroke="#000" stroke-width="1.35"/>
<line x1="567.50" y1="868.20" x2="567.50" y2="894.80" stroke="#000" stroke-width="1.35"/>
<line x1="563.30" y1="894.80" x2="571.70" y2="894.80" stroke="#000" stroke-width="1.35"/>
<rect x="563.25" y="863.95" width="8.50" height="8.50" fill="#000"/>
<line x1="583.50" y1="818.60" x2="583.50" y2="834.40" stroke="#000" stroke-width="1.35"/>
<line x1="579.30" y1="818.60" x2="587.70" y2="818.60" stroke="#000" stroke-width="1.35"/>
<line x1="583.50" y1="834.40" x2="583.50" y2="852.40" stroke="#000" stroke-width="1.35"/>
<line x1="579.30" y1="852.40" x2="587.70" y2="852.40" stroke="#000" stroke-width="1.35"/>
<rect x="579.25" y="830.15" width="8.50" height="8.50" fill="#000"/>
<line x1="600.50" y1="697.30" x2="600.50" y2="728.60" stroke="#000" stroke-width="1.35"/>
<line x1="596.30" y1="697.30" x2="604.70" y2="697.30" stroke="#000" stroke-width="1.35"/>
<line x1="600.50" y1="728.60" x2="600.50" y2="761.40" stroke="#000" stroke-width="1.35"/>
<line x1="596.30" y1="761.40" x2="604.70" y2="761.40" stroke="#000" stroke-width="1.35"/>
<rect x="596.25" y="724.35" width="8.50" height="8.50" fill="#000"/>
<path d="M171.7,1063.5 L532.5,937.6  C533.33,937.00 535.88,935.33 537.50,934.00 C539.12,932.67 540.07,931.60 542.20,929.60 C544.33,927.60 547.68,925.02 550.30,922.00 C552.92,918.98 555.70,914.92 557.90,911.50 C560.10,908.08 561.73,904.92 563.50,901.50 C565.27,898.08 566.92,894.58 568.50,891.00 C570.08,887.42 571.42,884.33 573.00,880.00 C574.58,875.67 576.42,869.65 578.00,865.00 C579.58,860.35 581.27,856.00 582.50,852.10 C583.73,848.20 584.43,845.28 585.40,841.60 C586.37,837.92 587.33,834.27 588.30,830.00 C589.27,825.73 590.23,821.25 591.20,816.00 C592.17,810.75 593.27,803.95 594.10,798.50 C594.93,793.05 595.62,787.77 596.20,783.30 C596.78,778.83 597.17,775.58 597.60,771.70 C598.03,767.82 598.48,764.45 598.80,760.00 C599.12,755.55 599.32,749.50 599.50,745.00 C599.68,740.50 599.83,735.00 599.90,733.00" fill="none" stroke="#4a70bf" stroke-width="2.0" stroke-linejoin="round"/>
<text x="293.80" y="940.20" font-family='"Liberation Sans", sans-serif' font-weight="bold" font-size="28.70" fill="#0a6cb8" stroke="#0a6cb8" stroke-width="0.8" stroke-linejoin="round" textLength="20.02" lengthAdjust="spacingAndGlyphs">R</text>
<text x="313.44" y="928.70" font-family='"Liberation Sans", sans-serif' font-weight="bold" font-size="19.14" fill="#0a6cb8" stroke="#0a6cb8" stroke-width="0.6" stroke-linejoin="round" textLength="12.05" lengthAdjust="spacingAndGlyphs">2</text>
<text x="333.10" y="939.43" font-family='"Liberation Sans", sans-serif' font-weight="bold" font-size="24.47" fill="#0a6cb8" stroke="#0a6cb8" stroke-width="0.7" stroke-linejoin="round" textLength="17.58" lengthAdjust="spacingAndGlyphs">=</text>
<text x="358.59" y="940.31" font-family='"Liberation Sans", sans-serif' font-weight="bold" font-size="29.30" fill="#0a6cb8" stroke="#0a6cb8" stroke-width="0.4" stroke-linejoin="round" textLength="81.77" lengthAdjust="spacingAndGlyphs">0.998</text>
<text x="548.76" y="974.50" font-family='"Liberation Sans", sans-serif' font-weight="bold" font-size="30.43" fill="#0a6cb8" stroke="#0a6cb8" stroke-width="0.8" stroke-linejoin="round" textLength="19.33" lengthAdjust="spacingAndGlyphs">R</text>
<text x="568.77" y="963.50" font-family='"Liberation Sans", sans-serif' font-weight="bold" font-size="19.29" fill="#0a6cb8" stroke="#0a6cb8" stroke-width="0.6" stroke-linejoin="round" textLength="11.59" lengthAdjust="spacingAndGlyphs">2</text>
<text x="588.27" y="973.37" font-family='"Liberation Sans", sans-serif' font-weight="bold" font-size="27.63" fill="#0a6cb8" stroke="#0a6cb8" stroke-width="0.7" stroke-linejoin="round" textLength="17.92" lengthAdjust="spacingAndGlyphs">=</text>
<text x="547.68" y="1018.10" font-family='"Liberation Sans", sans-serif' font-weight="bold" font-size="30.14" fill="#0a6cb8" stroke="#0a6cb8" stroke-width="0.4" stroke-linejoin="round" textLength="82.39" lengthAdjust="spacingAndGlyphs">0.988</text>
<line x1="844.90" y1="689.70" x2="844.90" y2="1103.50" stroke="#000" stroke-width="1.7"/>
<line x1="840.90" y1="689.70" x2="1337.50" y2="689.70" stroke="#000" stroke-width="1.7"/>
<line x1="840.90" y1="1094.00" x2="1337.50" y2="1094.00" stroke="#000" stroke-width="1.7"/>
<line x1="1337.50" y1="689.70" x2="1337.50" y2="1099.00" stroke="#000" stroke-width="1.7"/>
<line x1="837.50" y1="1054.50" x2="844.90" y2="1054.50" stroke="#000" stroke-width="1.7"/>
<line x1="837.50" y1="973.40" x2="844.90" y2="973.40" stroke="#000" stroke-width="1.7"/>
<line x1="837.50" y1="892.30" x2="844.90" y2="892.30" stroke="#000" stroke-width="1.7"/>
<line x1="837.50" y1="811.20" x2="844.90" y2="811.20" stroke="#000" stroke-width="1.7"/>
<line x1="837.50" y1="730.10" x2="844.90" y2="730.10" stroke="#000" stroke-width="1.7"/>
<line x1="840.90" y1="1013.95" x2="844.90" y2="1013.95" stroke="#000" stroke-width="1.7"/>
<line x1="840.90" y1="932.85" x2="844.90" y2="932.85" stroke="#000" stroke-width="1.7"/>
<line x1="840.90" y1="851.75" x2="844.90" y2="851.75" stroke="#000" stroke-width="1.7"/>
<line x1="840.90" y1="770.65" x2="844.90" y2="770.65" stroke="#000" stroke-width="1.7"/>
<line x1="896.80" y1="1094.00" x2="896.80" y2="1103.50" stroke="#000" stroke-width="1.7"/>
<line x1="948.60" y1="1094.00" x2="948.60" y2="1103.50" stroke="#000" stroke-width="1.7"/>
<line x1="1000.40" y1="1094.00" x2="1000.40" y2="1103.50" stroke="#000" stroke-width="1.7"/>
<line x1="1052.20" y1="1094.00" x2="1052.20" y2="1103.50" stroke="#000" stroke-width="1.7"/>
<line x1="1104.00" y1="1094.00" x2="1104.00" y2="1103.50" stroke="#000" stroke-width="1.7"/>
<line x1="1155.80" y1="1094.00" x2="1155.80" y2="1103.50" stroke="#000" stroke-width="1.7"/>
<line x1="1207.60" y1="1094.00" x2="1207.60" y2="1103.50" stroke="#000" stroke-width="1.7"/>
<line x1="1259.40" y1="1094.00" x2="1259.40" y2="1103.50" stroke="#000" stroke-width="1.7"/>
<line x1="1311.20" y1="1094.00" x2="1311.20" y2="1103.50" stroke="#000" stroke-width="1.7"/>
<line x1="870.90" y1="1094.00" x2="870.90" y2="1099.00" stroke="#000" stroke-width="1.7"/>
<line x1="922.70" y1="1094.00" x2="922.70" y2="1099.00" stroke="#000" stroke-width="1.7"/>
<line x1="974.50" y1="1094.00" x2="974.50" y2="1099.00" stroke="#000" stroke-width="1.7"/>
<line x1="1026.30" y1="1094.00" x2="1026.30" y2="1099.00" stroke="#000" stroke-width="1.7"/>
<line x1="1078.10" y1="1094.00" x2="1078.10" y2="1099.00" stroke="#000" stroke-width="1.7"/>
<line x1="1129.90" y1="1094.00" x2="1129.90" y2="1099.00" stroke="#000" stroke-width="1.7"/>
<line x1="1181.70" y1="1094.00" x2="1181.70" y2="1099.00" stroke="#000" stroke-width="1.7"/>
<line x1="1233.50" y1="1094.00" x2="1233.50" y2="1099.00" stroke="#000" stroke-width="1.7"/>
<line x1="1285.30" y1="1094.00" x2="1285.30" y2="1099.00" stroke="#000" stroke-width="1.7"/>
<text x="769.02" y="743.14" font-family='"Liberation Sans", sans-serif' font-weight="bold" font-size="26.48" fill="#000" textLength="48.75" lengthAdjust="spacingAndGlyphs">800</text>
<text x="768.87" y="825.54" font-family='"Liberation Sans", sans-serif' font-weight="bold" font-size="26.48" fill="#000" textLength="48.90" lengthAdjust="spacingAndGlyphs">600</text>
<text x="769.47" y="914.84" font-family='"Liberation Sans", sans-serif' font-weight="bold" font-size="26.48" fill="#000" textLength="48.29" lengthAdjust="spacingAndGlyphs">400</text>
<text x="768.87" y="995.14" font-family='"Liberation Sans", sans-serif' font-weight="bold" font-size="26.48" fill="#000" textLength="48.90" lengthAdjust="spacingAndGlyphs">200</text>
<text x="799.91" y="1067.94" font-family='"Liberation Sans", sans-serif' font-weight="bold" font-size="26.48" fill="#000" textLength="17.91" lengthAdjust="spacingAndGlyphs">0</text>
<text x="879.04" y="1139.93" font-family='"Liberation Sans", sans-serif' font-weight="bold" font-size="27.04" fill="#000" textLength="30.52" lengthAdjust="spacingAndGlyphs">20</text>
<text x="931.49" y="1139.93" font-family='"Liberation Sans", sans-serif' font-weight="bold" font-size="27.04" fill="#000" textLength="31.40" lengthAdjust="spacingAndGlyphs">30</text>
<text x="984.07" y="1139.93" font-family='"Liberation Sans", sans-serif' font-weight="bold" font-size="27.04" fill="#000" textLength="32.16" lengthAdjust="spacingAndGlyphs">40</text>
<text x="1036.98" y="1139.93" font-family='"Liberation Sans", sans-serif' font-weight="bold" font-size="27.04" fill="#000" textLength="30.48" lengthAdjust="spacingAndGlyphs">50</text>
<text x="1089.41" y="1139.93" font-family='"Liberation Sans", sans-serif' font-weight="bold" font-size="27.04" fill="#000" textLength="31.38" lengthAdjust="spacingAndGlyphs">60</text>
<text x="1141.72" y="1139.93" font-family='"Liberation Sans", sans-serif' font-weight="bold" font-size="27.04" fill="#000" textLength="31.69" lengthAdjust="spacingAndGlyphs">70</text>
<text x="1194.45" y="1139.93" font-family='"Liberation Sans", sans-serif' font-weight="bold" font-size="27.04" fill="#000" textLength="31.55" lengthAdjust="spacingAndGlyphs">80</text>
<text x="1247.70" y="1139.93" font-family='"Liberation Sans", sans-serif' font-weight="bold" font-size="27.04" fill="#000" textLength="31.70" lengthAdjust="spacingAndGlyphs">90</text>
<text x="1299.42" y="1139.93" font-family='"Liberation Sans", sans-serif' font-weight="bold" font-size="27.04" fill="#000" textLength="48.24" lengthAdjust="spacingAndGlyphs">100</text>
<text x="1008.76" y="1188.96" font-family='"Liberation Serif", serif' font-weight="bold" font-size="41.10" fill="#000" textLength="146.40" lengthAdjust="spacingAndGlyphs">RH (%)</text>
<text x="721.75" y="679.41" font-family='"Liberation Sans", sans-serif' font-weight="bold" font-size="58.50" fill="#000" textLength="34.35" lengthAdjust="spacingAndGlyphs">d</text>
<text x="740.97" y="937.29" transform="rotate(-90 740.97 937.29)" font-family='"Liberation Serif", serif' font-weight="bold" font-size="41.68" fill="#000" textLength="22.15" lengthAdjust="spacingAndGlyphs">δ</text>
<text x="741.60" y="915.03" transform="rotate(-90 741.60 915.03)" font-family='"Liberation Serif", serif' font-weight="bold" font-size="45.50" fill="#000" textLength="17.02" lengthAdjust="spacingAndGlyphs">I</text>
<text x="741.16" y="886.44" transform="rotate(-90 741.16 886.44)" font-family='"Liberation Serif", serif' font-weight="bold" font-size="44.48" fill="#000" textLength="10.09" lengthAdjust="spacingAndGlyphs">/</text>
<text x="741.60" y="866.13" transform="rotate(-90 741.60 866.13)" font-family='"Liberation Serif", serif' font-weight="bold" font-size="45.50" fill="#000" textLength="18.12" lengthAdjust="spacingAndGlyphs">I</text>
<rect x="1238.65" y="698.70" width="3.50" height="8.26" fill="#e2001a"/>
<rect x="1238.65" y="718.50" width="3.50" height="14.00" fill="#e2001a"/>
<rect x="1238.65" y="744.04" width="3.50" height="14.00" fill="#e2001a"/>
<rect x="1238.65" y="769.58" width="3.50" height="14.00" fill="#e2001a"/>
<rect x="1238.65" y="795.12" width="3.50" height="14.00" fill="#e2001a"/>
<rect x="1238.65" y="820.66" width="3.50" height="14.00" fill="#e2001a"/>
<rect x="1238.65" y="846.20" width="3.50" height="14.00" fill="#e2001a"/>
<rect x="1238.65" y="871.74" width="3.50" height="14.00" fill="#e2001a"/>
<rect x="1238.65" y="897.28" width="3.50" height="14.00" fill="#e2001a"/>
<rect x="1238.65" y="922.82" width="3.50" height="14.00" fill="#e2001a"/>
<rect x="1238.65" y="948.36" width="3.50" height="14.00" fill="#e2001a"/>
<rect x="1238.65" y="973.90" width="3.50" height="14.00" fill="#e2001a"/>
<rect x="1238.65" y="999.44" width="3.50" height="14.00" fill="#e2001a"/>
<rect x="1238.65" y="1024.98" width="3.50" height="14.00" fill="#e2001a"/>
<rect x="1238.65" y="1050.52" width="3.50" height="14.00" fill="#e2001a"/>
<rect x="1238.65" y="1076.06" width="3.50" height="13.94" fill="#e2001a"/>
<rect x="897.40" y="1048.90" width="8.20" height="8.20" fill="#000"/>
<rect x="959.40" y="1046.40" width="8.20" height="8.20" fill="#000"/>
<rect x="1005.40" y="1042.90" width="8.20" height="8.20" fill="#000"/>
<rect x="1047.40" y="1038.10" width="8.20" height="8.20" fill="#000"/>
<rect x="1078.40" y="1035.30" width="8.20" height="8.20" fill="#000"/>
<rect x="1114.40" y="1030.60" width="8.20" height="8.20" fill="#000"/>
<rect x="1151.40" y="1026.80" width="8.20" height="8.20" fill="#000"/>
<rect x="1192.40" y="1023.20" width="8.20" height="8.20" fill="#000"/>
<rect x="1224.40" y="1020.70" width="8.20" height="8.20" fill="#000"/>
<rect x="1254.40" y="1009.80" width="8.20" height="8.20" fill="#000"/>
<line x1="1279.50" y1="957.60" x2="1279.50" y2="963.00" stroke="#000" stroke-width="1.35"/>
<line x1="1275.30" y1="957.60" x2="1283.70" y2="957.60" stroke="#000" stroke-width="1.35"/>
<line x1="1279.50" y1="963.00" x2="1279.50" y2="970.00" stroke="#000" stroke-width="1.35"/>
<line x1="1275.30" y1="970.00" x2="1283.70" y2="970.00" stroke="#000" stroke-width="1.35"/>
<rect x="1275.40" y="958.90" width="8.20" height="8.20" fill="#000"/>
<line x1="1290.50" y1="887.60" x2="1290.50" y2="902.30" stroke="#000" stroke-width="1.35"/>
<line x1="1286.30" y1="887.60" x2="1294.70" y2="887.60" stroke="#000" stroke-width="1.35"/>
<line x1="1290.50" y1="902.30" x2="1290.50" y2="917.90" stroke="#000" stroke-width="1.35"/>
<line x1="1286.30" y1="917.90" x2="1294.70" y2="917.90" stroke="#000" stroke-width="1.35"/>
<rect x="1286.40" y="898.20" width="8.20" height="8.20" fill="#000"/>
<line x1="1300.50" y1="729.70" x2="1300.50" y2="769.80" stroke="#000" stroke-width="1.35"/>
<line x1="1296.30" y1="729.70" x2="1304.70" y2="729.70" stroke="#000" stroke-width="1.35"/>
<line x1="1300.50" y1="769.80" x2="1300.50" y2="811.10" stroke="#000" stroke-width="1.35"/>
<line x1="1296.30" y1="811.10" x2="1304.70" y2="811.10" stroke="#000" stroke-width="1.35"/>
<rect x="1296.40" y="765.70" width="8.20" height="8.20" fill="#000"/>
<path d="M903.6,1055.7 L1240.6,1024.5  C1241.57,1024.20 1244.42,1023.58 1246.40,1022.70 C1248.38,1021.82 1250.90,1020.22 1252.50,1019.20 C1254.10,1018.18 1254.98,1017.53 1256.00,1016.60 C1257.02,1015.67 1257.83,1014.78 1258.60,1013.60 C1259.37,1012.42 1259.58,1011.92 1260.60,1009.50 C1261.62,1007.08 1263.13,1002.73 1264.70,999.10 C1266.27,995.47 1268.38,991.35 1270.00,987.70 C1271.62,984.05 1273.27,980.12 1274.40,977.20 C1275.53,974.28 1275.93,972.67 1276.80,970.20 C1277.67,967.73 1278.80,965.17 1279.60,962.40 C1280.40,959.63 1280.87,956.82 1281.60,953.60 C1282.33,950.38 1283.20,946.70 1284.00,943.10 C1284.80,939.50 1285.53,936.78 1286.40,932.00 C1287.27,927.22 1288.07,921.80 1289.20,914.40 C1290.33,907.00 1292.02,896.55 1293.20,887.60 C1294.38,878.65 1295.25,869.40 1296.30,860.70 C1297.35,852.00 1298.57,843.57 1299.50,835.40 C1300.43,827.23 1301.37,819.35 1301.90,811.70 C1302.43,804.05 1302.50,795.57 1302.70,789.50 C1302.90,783.43 1302.97,779.78 1303.10,775.30 C1303.23,770.82 1303.43,764.72 1303.50,762.60" fill="none" stroke="#4a70bf" stroke-width="2.0" stroke-linejoin="round"/>
<text x="1001.83" y="993.80" font-family='"Liberation Sans", sans-serif' font-weight="bold" font-size="31.01" fill="#0a6cb8" stroke="#0a6cb8" stroke-width="0.8" stroke-linejoin="round" textLength="19.68" lengthAdjust="spacingAndGlyphs">R</text>
<text x="1022.33" y="983.00" font-family='"Liberation Sans", sans-serif' font-weight="bold" font-size="20.14" fill="#0a6cb8" stroke="#0a6cb8" stroke-width="0.6" stroke-linejoin="round" textLength="10.66" lengthAdjust="spacingAndGlyphs">2</text>
<text x="1042.35" y="992.12" font-family='"Liberation Sans", sans-serif' font-weight="bold" font-size="26.58" fill="#0a6cb8" stroke="#0a6cb8" stroke-width="0.7" stroke-linejoin="round" textLength="16.77" lengthAdjust="spacingAndGlyphs">=</text>
<text x="1066.18" y="993.89" font-family='"Liberation Sans", sans-serif' font-weight="bold" font-size="30.70" fill="#0a6cb8" stroke="#0a6cb8" stroke-width="0.4" stroke-linejoin="round" textLength="82.62" lengthAdjust="spacingAndGlyphs">0.987</text>
<text x="1256.46" y="1047.10" font-family='"Liberation Sans", sans-serif' font-weight="bold" font-size="26.67" fill="#0a6cb8" stroke="#0a6cb8" stroke-width="0.8" stroke-linejoin="round" textLength="17.06" lengthAdjust="spacingAndGlyphs">R</text>
<text x="1273.79" y="1037.70" font-family='"Liberation Sans", sans-serif' font-weight="bold" font-size="18.14" fill="#0a6cb8" stroke="#0a6cb8" stroke-width="0.6" stroke-linejoin="round" textLength="11.24" lengthAdjust="spacingAndGlyphs">2</text>
<text x="1291.73" y="1047.42" font-family='"Liberation Sans", sans-serif' font-weight="bold" font-size="26.58" fill="#0a6cb8" stroke="#0a6cb8" stroke-width="0.7" stroke-linejoin="round" textLength="15.61" lengthAdjust="spacingAndGlyphs">=</text>
<text x="1255.73" y="1084.73" font-family='"Liberation Sans", sans-serif' font-weight="bold" font-size="27.04" fill="#0a6cb8" stroke="#0a6cb8" stroke-width="0.4" stroke-linejoin="round" textLength="73.06" lengthAdjust="spacingAndGlyphs">0.999</text>
</svg>
</body></html>
